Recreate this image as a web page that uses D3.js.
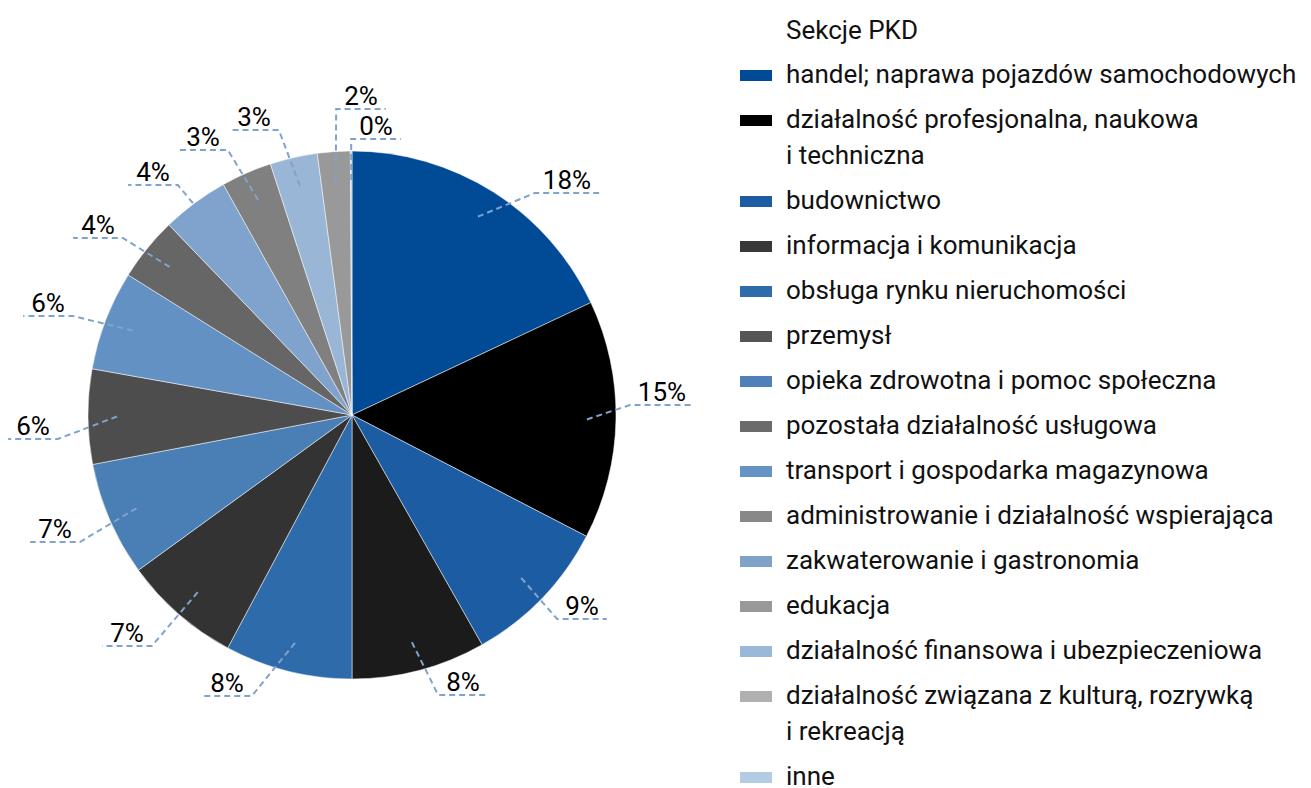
<!DOCTYPE html>
<html>
<head>
<meta charset="utf-8">
<script src="https://cdn.jsdelivr.net/npm/d3@7"></script>
<style>
  body { margin: 0; background: #fff; }
  svg text { font-family: Roboto, "Noto Sans", sans-serif; }
</style>
</head>
<body>
<div id="chart"></div>
<script>
// sections (PKD) in drawing order, clockwise from the top
var categories = [
    "handel; naprawa pojazdów samochodowych",
    "działalność profesjonalna, naukowa\ni techniczna",
    "budownictwo",
    "informacja i komunikacja",
    "obsługa rynku nieruchomości",
    "przemysł",
    "opieka zdrowotna i pomoc społeczna",
    "pozostała działalność usługowa",
    "transport i gospodarka magazynowa",
    "administrowanie i działalność wspierająca",
    "zakwaterowanie i gastronomia",
    "edukacja",
    "działalność finansowa i ubezpieczeniowa",
    "działalność związana z kulturą, rozrywką\ni rekreacją",
    "inne"
];

// share of each section in %
var values = [18.0, 14.6, 9.2, 8.2, 7.8, 7.2, 7.0, 5.8, 6.1, 3.9, 4.1, 3.1, 2.9, 2.0, 0.1];

var legendTitle = "Sekcje PKD";

// colours of slices and legend swatches
var sliceColors = ["#004a96", "#000000", "#1c5ca3", "#1b1b1b", "#2e6bab", "#333333", "#4a7fb6",
    "#4d4d4d", "#6391c4", "#666666", "#7fa3cc", "#808080", "#99b6d6", "#999999", "#b3cbe3"];
var legendColors = ["#004a96", "#000000", "#1c5ca3", "#383838", "#2e6bab", "#555555", "#4f80b8",
    "#6b6b6b", "#6693c5", "#888888", "#7fa3c8", "#999999", "#9ab8d8", "#b0b0b0", "#b3cbe3"];

// where each percentage label sits: text centre x, leader line y
var labelPos = [[567, 193], [662, 405], [582, 619], [463, 695], [227, 696], [127, 646], [55, 542],
    [33, 439], [48, 316], [98, 238], [153, 185], [203, 150], [254, 130], [361, 109], [376, 139]];

window.onload = function() {
    var width = 1311, height = 788;
    var cx = 352, cy = 415, radius = 264;

    var svg = d3.select("#chart")
        .append("svg")
        .attr("width", width)
        .attr("height", height);

    var total = d3.sum(values);
    var pie = d3.pie().sort(null).value(function(d) { return d; });
    var arc = d3.arc().innerRadius(0).outerRadius(radius);
    var arcs = pie(values);

    var g = svg.append("g").attr("transform", "translate(" + cx + "," + cy + ")");

    // slices
    g.selectAll("path.slice")
        .data(arcs)
        .enter()
        .append("path")
        .attr("class", "slice")
        .attr("d", arc)
        .attr("fill", function(d, i) { return sliceColors[i]; })
        .attr("stroke", "#ffffff")
        .attr("stroke-width", 0.5);

    var fmt = d3.format(".0%");

    // percentage labels with dashed leader lines
    arcs.forEach(function(d, i) {
        var lx = labelPos[i][0] - cx, ly = labelPos[i][1] - cy;
        var t = g.append("text")
            .attr("x", lx)
            .attr("y", ly - 4)
            .attr("text-anchor", "middle")
            .attr("font-size", 26)
            .attr("fill", "#000")
            .text(fmt(d.value / total));
        var half = t.node().getComputedTextLength() / 2 + 8;

        var mid = (d.startAngle + d.endAngle) / 2;
        var r = radius * 0.89;
        var inner = [Math.sin(mid) * r, -Math.cos(mid) * r];
        var elbowX = lx > 0 ? lx - half : lx + half;
        var farX = lx > 0 ? lx + half : lx - half;

        g.append("path")
            .attr("d", d3.line()([inner, [elbowX, ly], [farX, ly]]))
            .attr("fill", "none")
            .attr("stroke", "#7fa3cc")
            .attr("stroke-width", 2)
            .attr("stroke-dasharray", "6,4");
    });

    // legend
    var legend = svg.append("g");
    var lineH = 36, rowH = 45;

    legend.append("text")
        .attr("x", 786)
        .attr("y", 39)
        .attr("font-size", 26)
        .attr("fill", "#111")
        .text(legendTitle);

    var y = 75;
    categories.forEach(function(name, i) {
        var lines = name.split("\n");
        legend.append("rect")
            .attr("x", 740)
            .attr("y", y - 5)
            .attr("width", 32)
            .attr("height", 11)
            .attr("fill", legendColors[i]);
        var t = legend.append("text")
            .attr("font-size", 26)
            .attr("fill", "#111");
        lines.forEach(function(s, j) {
            t.append("tspan")
                .attr("x", 786)
                .attr("y", y + 8 + j * lineH)
                .text(s);
        });
        y += rowH + (lines.length - 1) * lineH;
    });
};
</script>
</body>
</html>
